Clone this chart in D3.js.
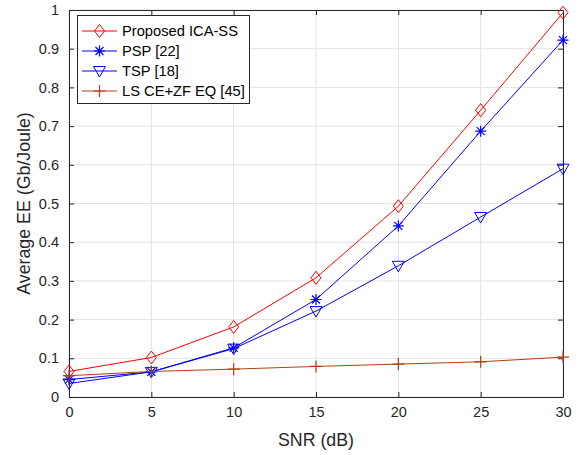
<!DOCTYPE html>
<html><head><meta charset="utf-8">
<script src="https://cdn.jsdelivr.net/npm/d3@7"></script>
<style>body{margin:0;background:#fff}svg{display:block;font-family:"Liberation Sans",Arial,sans-serif}</style>
</head><body>
<svg id="c" width="584" height="455"></svg>
<script>
const snr = [0, 5, 10, 15, 20, 25, 30];
const proposed = [0.066, 0.102, 0.181, 0.308, 0.493, 0.741, 0.993];
const psp = [0.045, 0.065, 0.127, 0.252, 0.442, 0.687, 0.922];
const tsp = [0.035, 0.065, 0.125, 0.222, 0.339, 0.465, 0.590];
const ls = [0.055, 0.066, 0.072, 0.079, 0.085, 0.091, 0.103];
const xTicks = [0, 5, 10, 15, 20, 25, 30];
const yTicks = [0, 0.1, 0.2, 0.3, 0.4, 0.5, 0.6, 0.7, 0.8, 0.9, 1];
const seriesNames = ["Proposed ICA-SS", "PSP [22]", "TSP [18]", "LS CE+ZF EQ [45]"];

const series = [
  {name: seriesNames[0], values: proposed, color: "#ff0000", marker: "diamond"},
  {name: seriesNames[1], values: psp, color: "#0000ff", marker: "star"},
  {name: seriesNames[2], values: tsp, color: "#0000ff", marker: "tri"},
  {name: seriesNames[3], values: ls, color: "#b04010", marker: "plus"}
];

const svg = d3.select("#c");
const L = 69, R = 563, T = 10, B = 397;
const x = d3.scaleLinear().domain([0, 30]).range([L, R]);
const y = d3.scaleLinear().domain([0, 1]).range([B, T]);
const axisColor = "#262626";

// grid
const g = svg.append("g");
g.selectAll(".gx").data(xTicks).join("line")
  .attr("x1", d => x(d)).attr("x2", d => x(d)).attr("y1", T).attr("y2", B)
  .attr("stroke", "#e3e3e3").attr("stroke-width", 1);
g.selectAll(".gy").data(yTicks).join("line")
  .attr("y1", d => y(d)).attr("y2", d => y(d)).attr("x1", L).attr("x2", R)
  .attr("stroke", "#e3e3e3").attr("stroke-width", 1);

// axes
const fmt = d => d === 0 ? "0" : d === 1 ? "1" : d3.format(".1f")(d);
const xa = svg.append("g").attr("transform", `translate(0,${B})`)
  .call(d3.axisBottom(x).tickValues(xTicks).tickSizeInner(-5).tickSizeOuter(0).tickPadding(10));
const xt = svg.append("g").attr("transform", `translate(0,${T})`)
  .call(d3.axisTop(x).tickValues(xTicks).tickSizeInner(-5).tickSizeOuter(0).tickFormat(""));
const ya = svg.append("g").attr("transform", `translate(${L},0)`)
  .call(d3.axisLeft(y).tickValues(yTicks).tickSizeInner(-5).tickSizeOuter(0).tickPadding(10).tickFormat(fmt));
const yr = svg.append("g").attr("transform", `translate(${R},0)`)
  .call(d3.axisRight(y).tickValues(yTicks).tickSizeInner(-5).tickSizeOuter(0).tickFormat(""));
[xa, xt, ya, yr].forEach(a => {
  a.selectAll("path").attr("stroke", axisColor).attr("stroke-width", 1);
  a.selectAll("line").attr("stroke", axisColor);
  a.selectAll("text").attr("fill", axisColor).attr("font-size", 14.5).attr("font-family", "Liberation Sans, Arial, sans-serif");
});

// labels
svg.append("text").attr("x", (L + R) / 2).attr("y", 446).attr("text-anchor", "middle")
  .attr("font-size", 17.8).attr("fill", axisColor).text("SNR (dB)");
svg.append("text").attr("transform", `translate(30,${(T + B) / 2}) rotate(-90)`).attr("text-anchor", "middle")
  .attr("font-size", 17.8).attr("fill", axisColor).text("Average EE (Gb/Joule)");

function drawMarker(sel, type, color) {
  if (type === "diamond") {
    sel.append("path").attr("d", "M0,-6.5L5,0L0,6.5L-5,0Z").attr("fill", "none").attr("stroke", color).attr("stroke-width", 1);
  } else if (type === "star") {
    sel.append("path").attr("d", "M-5.5,0H5.5M0,-5.5V5.5M-4,-4L4,4M-4,4L4,-4").attr("stroke", color).attr("stroke-width", 1.2);
  } else if (type === "tri") {
    sel.append("path").attr("d", "M-6,-4.5L6,-4.5L0,6Z").attr("fill", "none").attr("stroke", color).attr("stroke-width", 1);
  } else if (type === "plus") {
    sel.append("path").attr("d", "M-6,0H6M0,-6V6").attr("stroke", color).attr("stroke-width", 1.2);
  }
}

const line = d3.line().x((d, i) => x(snr[i])).y(d => y(d));
series.forEach(s => {
  svg.append("path").datum(s.values).attr("d", line).attr("fill", "none")
    .attr("stroke", s.color).attr("stroke-width", 1);
  s.values.forEach((v, i) => {
    const m = svg.append("g").attr("transform", `translate(${x(snr[i])},${y(v)})`);
    drawMarker(m, s.marker, s.color);
  });
});

// legend
const lg = svg.append("g");
lg.append("rect").attr("x", 77.5).attr("y", 15.5).attr("width", 172).attr("height", 88)
  .attr("fill", "#fff").attr("stroke", axisColor).attr("stroke-width", 1);
series.forEach((s, i) => {
  const yy = 31 + i * 20;
  lg.append("line").attr("x1", 82).attr("x2", 117).attr("y1", yy).attr("y2", yy)
    .attr("stroke", s.color).attr("stroke-width", 1);
  drawMarker(lg.append("g").attr("transform", `translate(99.5,${yy})`), s.marker, s.color);
  lg.append("text").attr("x", 122).attr("y", yy + 5).attr("font-size", 14.7).attr("fill", "#000").text(s.name);
});
</script>
</body></html>
